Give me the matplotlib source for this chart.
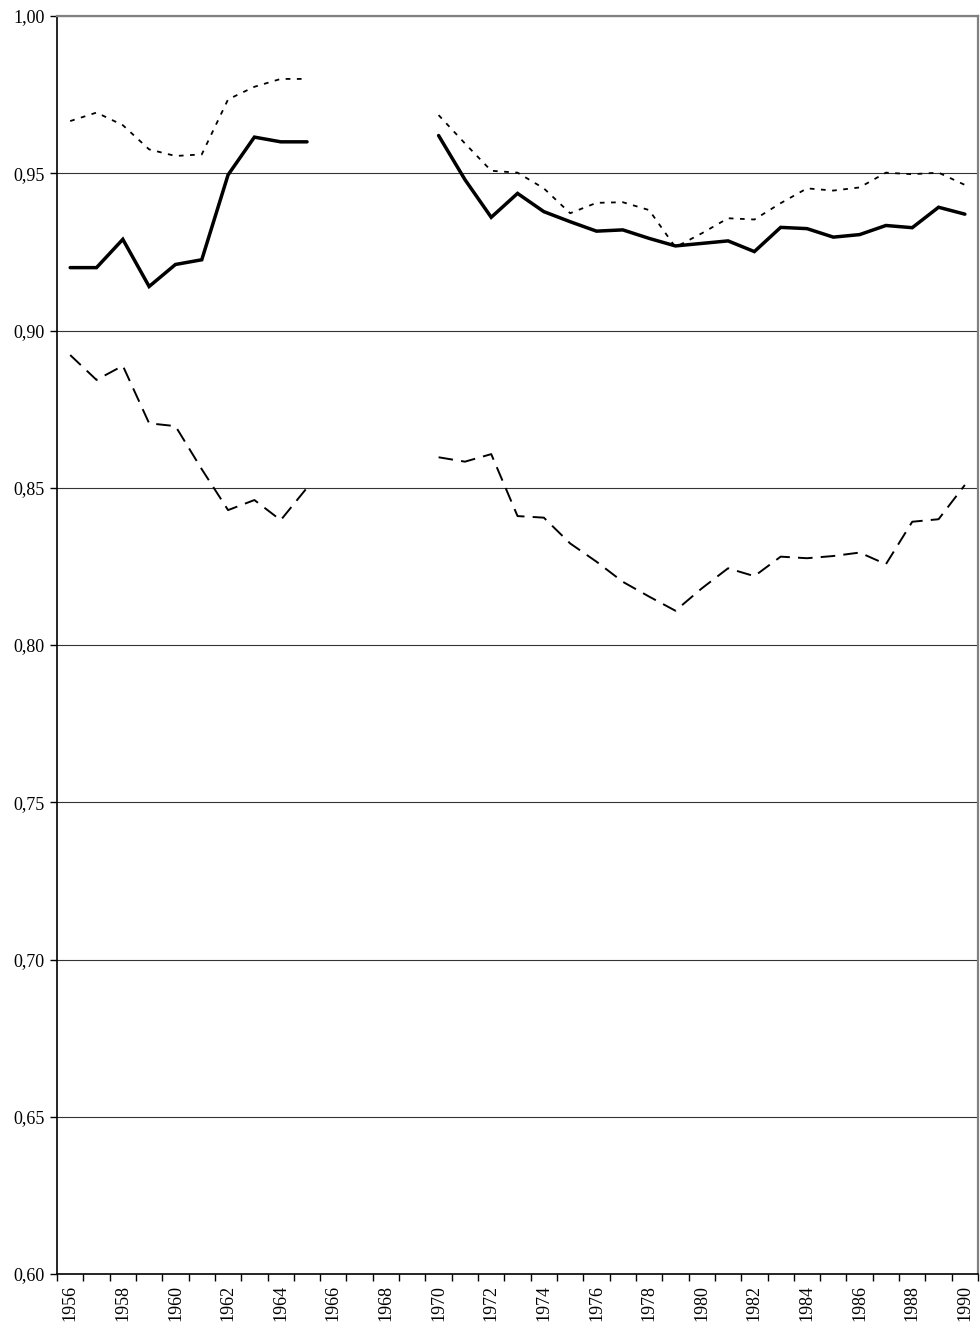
import numpy as np
import matplotlib
matplotlib.use("Agg")
import matplotlib.pyplot as plt

plt.rcParams["font.family"] = ["Liberation Serif", "DejaVu Serif"]

NA = np.nan

years = list(range(1956, 1991))

# solid thick line
series_solid = [
    0.920, 0.920, 0.929, 0.914, 0.921, 0.9225, 0.9495, 0.9615, 0.960, 0.960,
    NA, NA, NA, NA,
    0.962, 0.948, 0.936, 0.9436, 0.9378, 0.9346, 0.9316, 0.932, 0.9293,
    0.9269, 0.9277, 0.9285, 0.9251, 0.9328, 0.9324, 0.9297, 0.9305,
    0.9334, 0.9327, 0.9392, 0.937,
]

# dotted line
series_dotted = [
    0.9666, 0.9693, 0.9653, 0.9576, 0.9555, 0.956, 0.9735, 0.9775, 0.980, 0.980,
    NA, NA, NA, NA,
    0.9685, 0.9595, 0.9508, 0.9502, 0.9452, 0.9373, 0.9406, 0.9408, 0.9383,
    0.9265, 0.9309, 0.9357, 0.9353, 0.9405, 0.9452, 0.9445, 0.9455,
    0.9502, 0.9497, 0.9502, 0.9463,
]

# dashed line
series_dashed = [
    0.8922, 0.8843, 0.8888, 0.8705, 0.8696, 0.8559, 0.8429, 0.8461, 0.8397, 0.850,
    NA, NA, NA, NA,
    0.8597, 0.8583, 0.8607, 0.841, 0.8405, 0.8323, 0.8265, 0.8201, 0.8154,
    0.8109, 0.818, 0.8244, 0.8219, 0.8281, 0.8276, 0.8283, 0.8294,
    0.8257, 0.8392, 0.840, 0.8509,
]

y_ticks = [0.60, 0.65, 0.70, 0.75, 0.80, 0.85, 0.90, 0.95, 1.00]
y_labels = ["0,60", "0,65", "0,70", "0,75", "0,80", "0,85", "0,90", "0,95", "1,00"]


fig = plt.figure(figsize=(9.8, 13.36), dpi=100)
ax = fig.add_axes([0.0582, 0.0464, 0.9398, 0.9416])

for y in y_ticks[1:]:
    ax.axhline(y, color="#333333", lw=0.8, zorder=1)

ax.plot(years, series_dashed, color="black", lw=1.4,
        linestyle=(0, (7.5, 4.2)), zorder=3)
ax.plot(years, series_dotted, color="black", lw=1.3,
        linestyle=(0, (2.6, 3.6)), zorder=3)
ax.plot(years, series_solid, color="black", lw=2.5,
        solid_capstyle="round", solid_joinstyle="miter", zorder=4)

ax.set_xlim(years[0] - 0.5, years[-1] + 0.5)
ax.set_ylim(0.60, 1.00)

ax.set_yticks(y_ticks)
ax.set_yticklabels(y_labels, fontsize=13)

# tick marks sit on category boundaries, labels in the middle
ax.set_xticks(np.arange(years[0] - 0.5, years[-1] + 1, 1.0))
ax.set_xticklabels([])
ax.set_xticks(years[::2], minor=True)
ax.set_xticklabels([str(y) for y in years[::2]], minor=True,
                   rotation=90, fontsize=13)
ax.tick_params(axis="x", which="major", direction="out", length=5,
               width=1, color="black")
ax.tick_params(axis="x", which="minor", length=0, pad=8)
ax.tick_params(axis="y", direction="out", length=5, width=1, pad=4)

for side in ["left", "bottom"]:
    ax.spines[side].set_color("black")
    ax.spines[side].set_linewidth(1.2)
for side in ["top", "right"]:
    ax.spines[side].set_color("#808080")
    ax.spines[side].set_linewidth(1.6)

fig.savefig("out.png", dpi=100, facecolor="white")
